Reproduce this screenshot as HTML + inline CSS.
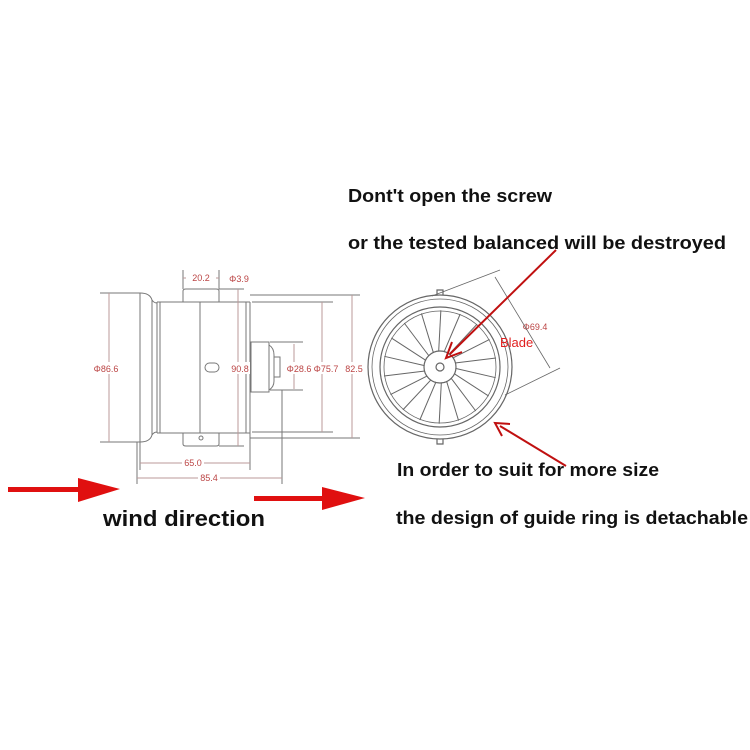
<!DOCTYPE html>
<html><head><style>html,body{margin:0;padding:0;background:#fff}svg{display:block}</style></head>
<body>
<svg width="750" height="750" viewBox="0 0 750 750" xmlns="http://www.w3.org/2000/svg" font-family="Liberation Sans, sans-serif">
<rect width="750" height="750" fill="#fff"/>
<g stroke="#777" stroke-width="1" fill="none">
<line x1="100" y1="293" x2="140" y2="293"/>
<line x1="100" y1="442" x2="140" y2="442"/>
<line x1="140" y1="293" x2="140" y2="442"/>
<path d="M140 293 Q150 293 152 300 Q154 303 157 303"/>
<path d="M140 442 Q150 442 152 435 Q154 432 157 432"/>
<line x1="152" y1="300" x2="152" y2="435"/>
<line x1="157" y1="302" x2="157" y2="433"/>
<line x1="160" y1="302" x2="160" y2="433"/>
<line x1="157" y1="302" x2="250" y2="302"/>
<line x1="157" y1="433" x2="250" y2="433"/>
<line x1="250" y1="302" x2="250" y2="433"/>
<line x1="246" y1="302" x2="246" y2="433"/>
<line x1="200" y1="302" x2="200" y2="433"/>
<path d="M183 302 V291 Q183 289 186 289 H216 Q219 289 219 291 V302"/>
<path d="M183 433 V444 Q183 446 186 446 H216 Q219 446 219 444 V433"/>
<rect x="205" y="363" width="14" height="9" rx="4.5"/>
<circle cx="201" cy="438" r="2"/>
<rect x="251" y="342" width="18" height="50"/>
<path d="M269 345 Q274 348 274 355 V381 Q274 387 269 390"/>
<rect x="274" y="357" width="6" height="20"/>
<line x1="250" y1="295" x2="360" y2="295"/>
<line x1="250" y1="438" x2="360" y2="438"/>
<line x1="252" y1="302" x2="333" y2="302"/>
<line x1="252" y1="432" x2="333" y2="432"/>
<line x1="270" y1="342" x2="303" y2="342"/>
<line x1="270" y1="390" x2="303" y2="390"/>
<line x1="219" y1="289" x2="244" y2="289"/>
<line x1="219" y1="446" x2="244" y2="446"/>
<line x1="183" y1="270" x2="183" y2="289"/>
<line x1="219" y1="270" x2="219" y2="289"/>
<line x1="140" y1="442" x2="140" y2="470"/>
<line x1="137" y1="442" x2="137" y2="484"/>
<line x1="250" y1="433" x2="250" y2="470"/>
<line x1="282" y1="390" x2="282" y2="484"/>
<line x1="109" y1="293" x2="109" y2="442" stroke="#b99"/>
<line x1="238" y1="289" x2="238" y2="446" stroke="#b99"/>
<line x1="294" y1="344" x2="294" y2="389" stroke="#b99"/>
<line x1="322" y1="302" x2="322" y2="432" stroke="#b99"/>
<line x1="352" y1="295" x2="352" y2="438" stroke="#b99"/>
<line x1="140" y1="463" x2="250" y2="463" stroke="#b99"/>
<line x1="137" y1="478" x2="282" y2="478" stroke="#b99"/>
<line x1="183" y1="278" x2="219" y2="278" stroke="#b99"/>
</g>
<g fill="#b44" font-size="9" text-anchor="middle">
<rect x="92" y="362" width="30" height="12" fill="#fff"/>
<text x="106" y="372">Φ86.6</text>
<rect x="226" y="362" width="24" height="12" fill="#fff"/>
<text x="240" y="372">90.8</text>
<rect x="282" y="362" width="62" height="12" fill="#fff"/>
<text x="299" y="372">Φ28.6</text>
<text x="326" y="372">Φ75.7</text>
<rect x="343" y="362" width="20" height="12" fill="#fff"/>
<text x="354" y="372">82.5</text>
<rect x="186" y="272" width="30" height="11" fill="#fff"/>
<text x="201" y="281">20.2</text>
<text x="239" y="282">Φ3.9</text>
<rect x="182" y="457" width="22" height="11" fill="#fff"/>
<text x="193" y="466">65.0</text>
<rect x="198" y="472" width="22" height="11" fill="#fff"/>
<text x="209" y="481">85.4</text>
<text x="535" y="330">Φ69.4</text>
</g>
<g stroke="#666" fill="none" stroke-width="1.2">
<circle cx="440" cy="367" r="72"/>
<circle cx="440" cy="367" r="68" stroke-width="0.8"/>
<circle cx="440" cy="367" r="60"/>
<circle cx="440" cy="367" r="56" stroke-width="0.8"/>
<circle cx="440" cy="367" r="16"/>
<circle cx="440" cy="367" r="4"/>
<path d="M437 295 v-5 h6 v5 M437 439 v5 h6 v-5"/>
<line x1="432" y1="296" x2="500" y2="270" stroke-width="0.8"/>
<line x1="505" y1="395" x2="560" y2="368" stroke-width="0.8"/>
<line x1="495" y1="277" x2="550" y2="368" stroke-width="0.8"/>
</g>
<g stroke="#666" stroke-width="1" fill="none">
<path d="M455 363 L496 358" transform="rotate(0 440 367)"/>
<path d="M455 363 L496 358" transform="rotate(20 440 367)"/>
<path d="M455 363 L496 358" transform="rotate(40 440 367)"/>
<path d="M455 363 L496 358" transform="rotate(60 440 367)"/>
<path d="M455 363 L496 358" transform="rotate(80 440 367)"/>
<path d="M455 363 L496 358" transform="rotate(100 440 367)"/>
<path d="M455 363 L496 358" transform="rotate(120 440 367)"/>
<path d="M455 363 L496 358" transform="rotate(140 440 367)"/>
<path d="M455 363 L496 358" transform="rotate(160 440 367)"/>
<path d="M455 363 L496 358" transform="rotate(180 440 367)"/>
<path d="M455 363 L496 358" transform="rotate(200 440 367)"/>
<path d="M455 363 L496 358" transform="rotate(220 440 367)"/>
<path d="M455 363 L496 358" transform="rotate(240 440 367)"/>
<path d="M455 363 L496 358" transform="rotate(260 440 367)"/>
<path d="M455 363 L496 358" transform="rotate(280 440 367)"/>
<path d="M455 363 L496 358" transform="rotate(300 440 367)"/>
<path d="M455 363 L496 358" transform="rotate(320 440 367)"/>
<path d="M455 363 L496 358" transform="rotate(340 440 367)"/>
</g>
<g fill="#e01010" stroke="none">
<rect x="8" y="487" width="72" height="5"/>
<polygon points="78,478 120,489 78,502"/>
<rect x="254" y="496" width="70" height="5"/>
<polygon points="322,487 365,498 322,510"/>
</g>
<g stroke="#c01010" stroke-width="2" fill="none">
<line x1="556" y1="250" x2="450" y2="354"/>
<path d="M452 342 L446 358 L462 352"/>
<line x1="566" y1="466" x2="500" y2="426"/>
<path d="M502 436 L495 423 L510 424"/>
</g>
<text x="500" y="347" fill="#e02020" font-size="13">Blade</text>
<g font-weight="bold" fill="#111">
<text x="348" y="202" font-size="18" textLength="204" lengthAdjust="spacingAndGlyphs">Dont't open the screw</text>
<text x="348" y="249" font-size="18" textLength="378" lengthAdjust="spacingAndGlyphs">or the tested balanced will be destroyed</text>
<text x="397" y="476" font-size="18" textLength="262" lengthAdjust="spacingAndGlyphs">In order to suit for more size</text>
<text x="396" y="524" font-size="18" textLength="352" lengthAdjust="spacingAndGlyphs">the design of guide ring is detachable</text>
<text x="103" y="526" font-size="22" textLength="162" lengthAdjust="spacingAndGlyphs">wind direction</text>
</g>
</svg>
</body></html>
